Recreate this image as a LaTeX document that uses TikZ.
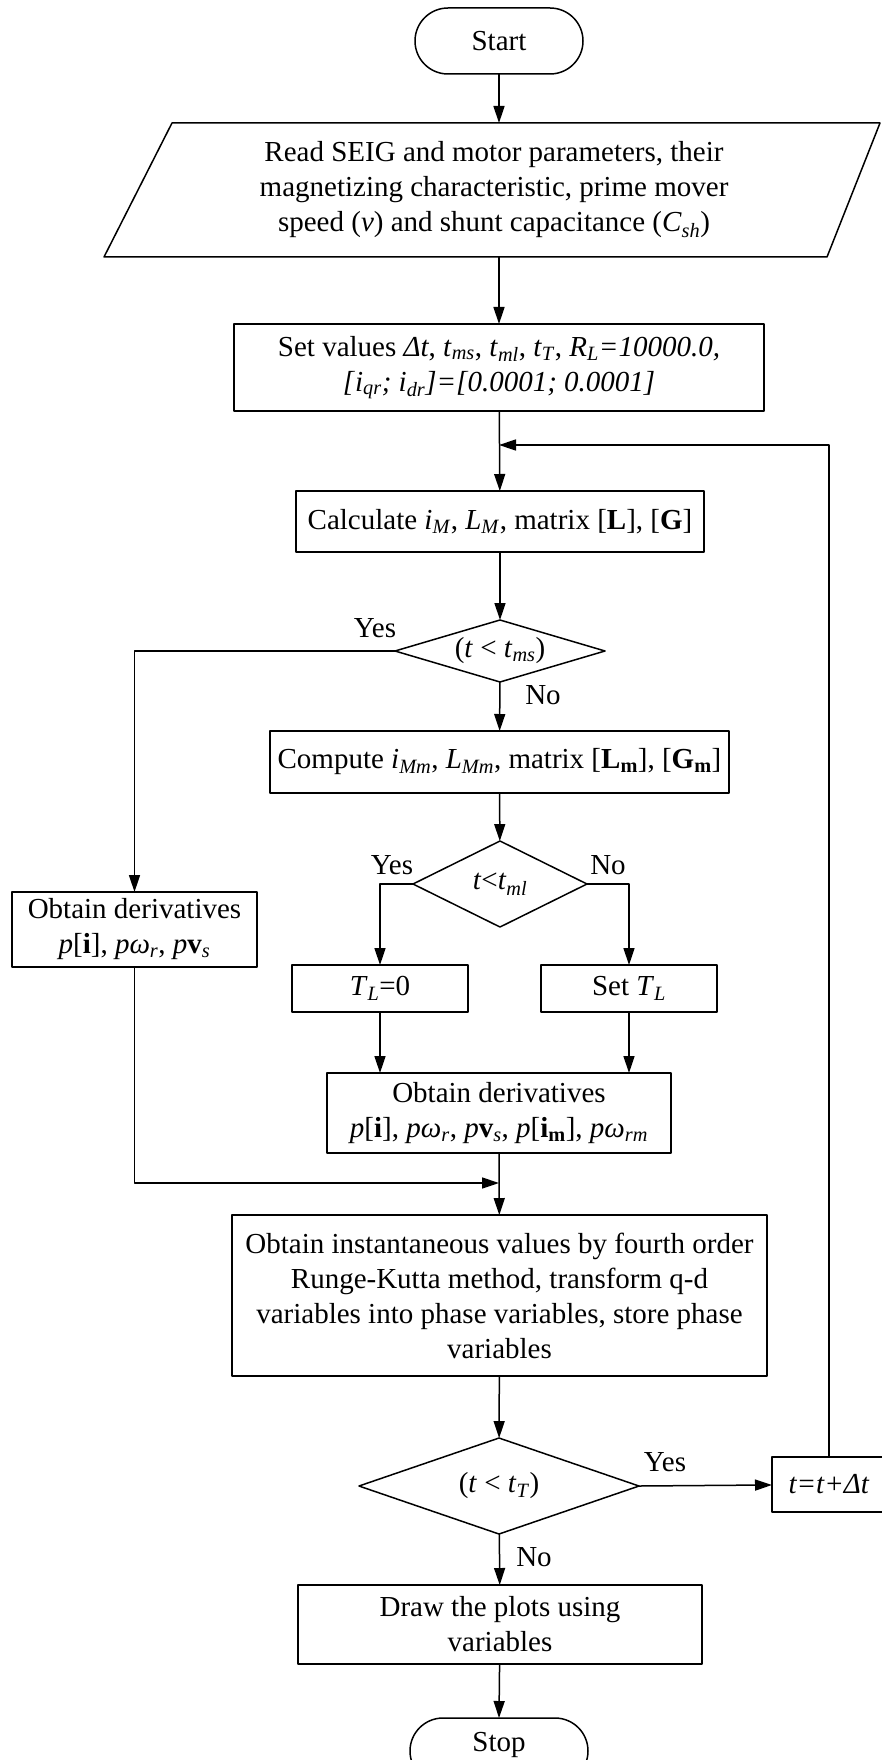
\documentclass[tikz,border=0pt]{standalone}
\usepackage{fontspec}
\setmainfont{Liberation Serif}
\usetikzlibrary{shapes.geometric,arrows.meta}
% italic symbol with italic subscript
\newcommand{\vsub}[2]{\textit{#1}\textsubscript{\textit{#2}}}

\begin{document}
\begin{tikzpicture}[x=1pt,y=-1pt,>={Triangle[length=17pt,width=11pt]},line join=round,
 line width=1.5pt,font=\fontsize{29}{35}\selectfont,
 box/.style={draw,rectangle,inner sep=0pt,outer sep=0pt,align=center},
 term/.style={box,rounded corners=33pt,minimum width=168pt,minimum height=66pt},
 decision/.style={draw,diamond,inner sep=0pt,outer sep=0pt},
 lbl/.style={inner sep=0pt}]
 \useasboundingbox (0,0) rectangle (881,1760);

 % main column
 \node[term] (start) at (499,41) {Start};
 \coordinate (readtop) at (499,123);
 \coordinate (readbot) at (499,257);
 \draw (172,123)--(880,123)--(827,257)--(104,257)--cycle;
 \node[align=center,inner sep=0pt] (read) at (494,190) {Read SEIG and motor parameters, their\\
  magnetizing characteristic, prime mover\\
  speed (\textit{ν}) and shunt capacitance (\vsub{C}{sh})};
 \node[box,minimum width=530pt,minimum height=87pt] (set) at (499,367.5)
  {Set values \textit{Δt}, \vsub{t}{ms}, \vsub{t}{ml}, \vsub{t}{T}, \vsub{R}{L}\textit{=10000.0,}\\
  \textit{[}\vsub{i}{qr}\textit{; }\vsub{i}{dr}\textit{]=[0.0001; 0.0001]}};
 \coordinate (fb) at (499,445);
 \node[box,minimum width=408pt,minimum height=61pt] (calc) at (500,521.5)
  {Calculate \vsub{i}{M}, \vsub{L}{M}, matrix [\textbf{L}], [\textbf{G}]};
 \node[decision,minimum width=210pt,minimum height=62pt,aspect=3.39] (d1) at (500,651)
  {(\textit{t} < \vsub{t}{ms})};
 \node[box,minimum width=459pt,minimum height=62pt] (comp) at (499.5,762)
  {Compute \vsub{i}{Mm}, \vsub{L}{Mm}, matrix [\textbf{L}\textsubscript{\textbf{m}}], [\textbf{G}\textsubscript{\textbf{m}}]};
 \node[decision,minimum width=174pt,minimum height=86pt,aspect=2.02] (d2) at (500,884)
  {\textit{t}<\vsub{t}{ml}};
 \node[box,minimum width=176pt,minimum height=47pt] (tl0) at (380,988.5) {\vsub{T}{L}=0};
 \node[box,minimum width=176pt,minimum height=47pt] (settl) at (629,988.5) {Set \vsub{T}{L}};
 \node[box,minimum width=344pt,minimum height=80pt] (obt2) at (499,1113)
  {Obtain derivatives\\
  \textit{p}[\textbf{i}], \vsub{pω}{r}, \textit{p}\textbf{v}\textsubscript{\textit{s}}, \textit{p}[\textbf{i}\textsubscript{\textbf{m}}], \vsub{pω}{rm}};
 \coordinate (join) at (499,1183);
 \node[box,minimum width=535pt,minimum height=161pt] (inst) at (499.5,1295.5)
  {Obtain instantaneous values by fourth order\\
  Runge-Kutta method, transform q-d\\
  variables into phase variables, store phase\\
  variables};
 \node[decision,minimum width=280pt,minimum height=96pt,aspect=2.92] (d3) at (499,1486)
  {(\textit{t} < \vsub{t}{T})};
 \node[box,minimum width=404pt,minimum height=79pt] (plot) at (500,1624.5)
  {Draw the plots using\\variables};
 \node[term,minimum width=178pt,text height=0pt,text depth=0pt] (stop) at (499,1751) {Stop};

 % side boxes
 \node[box,minimum width=245pt,minimum height=75pt] (lbox) at (134.5,929.5)
  {Obtain derivatives\\ \textit{p}[\textbf{i}], \vsub{pω}{r}, \textit{p}\textbf{v}\textsubscript{\textit{s}}};
 \node[box,minimum width=114pt,minimum height=55pt] (tbox) at (829,1484.5) {\textit{t=t+Δt}};

 % connectors
 \draw[->] (start)--(readtop);
 \draw[->] (readbot)--(set);
 \draw[->] (set)--(calc);
 \draw[->] (calc)--(d1);
 \draw[->] (d1.west)-|(lbox);
 \draw[->] (d1)--(comp);
 \draw[->] (comp)--(d2);
 \draw[->] (d2.west)-|(tl0);
 \draw[->] (d2.east)-|(settl);
 \draw[->] (tl0)--(tl0|-obt2.north);
 \draw[->] (settl)--(settl|-obt2.north);
 \draw[->] (lbox)|-(join);
 \draw[->] (obt2)--(inst);
 \draw[->] (inst)--(d3);
 \draw[->] (d3)--(plot);
 \draw[->] (plot)--(stop.north);
 \draw[->] (d3.east)--(tbox);
 \draw[->] (tbox.north)|-(fb);

 % branch labels
 \node[lbl] (yes1) at (375,628) {Yes};
 \node[lbl] (no1) at (543,695) {No};
 \node[lbl] (yes2) at (392,865) {Yes};
 \node[lbl] (no2) at (608,865) {No};
 \node[lbl] (yes3) at (665,1462) {Yes};
 \node[lbl] (no3) at (534,1557) {No};
\end{tikzpicture}
\end{document}
